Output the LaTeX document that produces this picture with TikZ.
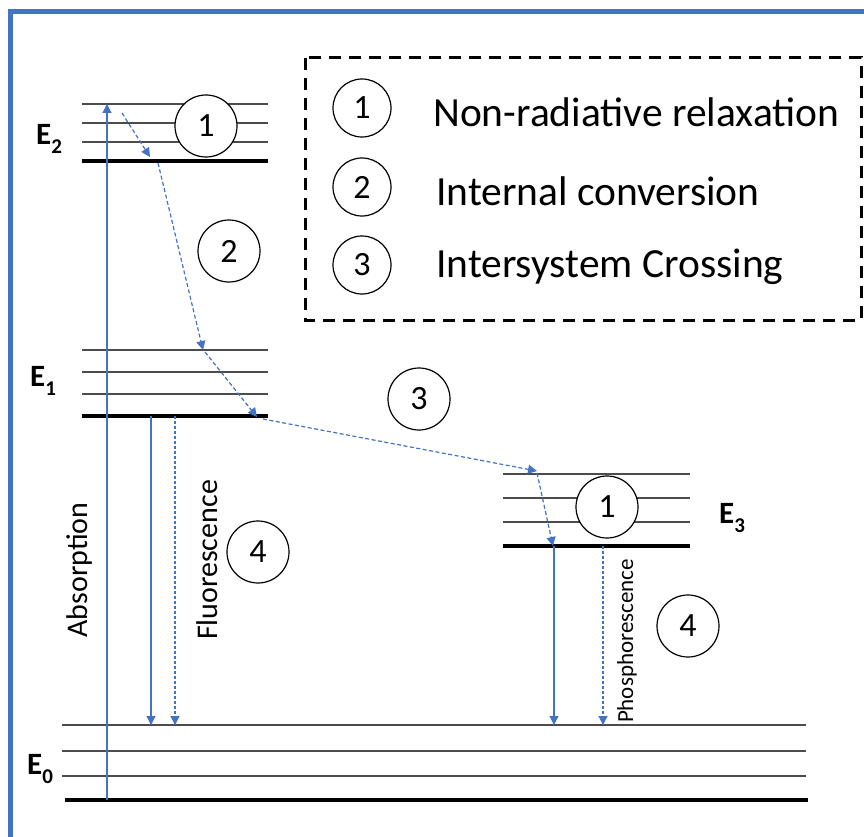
\documentclass[tikz,border=0pt]{standalone}
\usepackage{fontspec}
\setmainfont{Carlito}
\usetikzlibrary{arrows.meta}
\definecolor{frameblue}{HTML}{4472C4}
\definecolor{arrowblue}{HTML}{4472C4}

\newcommand{\energy}[1]{E\raisebox{-9pt}{\fontsize{21}{21}\selectfont #1}}

\begin{document}
\begin{tikzpicture}[x=1pt,y=-1pt,
  level/.style={draw=black!70, line width=1.1pt},
  baselevel/.style={draw=black, line width=3.6pt},
  tag/.style={circle, draw=black, line width=1.2pt, fill=white, minimum size=62pt,
    inner sep=0pt, font=\fontsize{34}{34}\selectfont},
  keytag/.style={tag, minimum size=58pt},
  transition/.style={draw=arrowblue, line width=1.2pt, -{Triangle[length=9pt,width=9pt]}},
  relax/.style={transition, dash pattern=on 4pt off 2.5pt},
  elabel/.style={anchor=base west, inner sep=0pt, font=\fontsize{31}{31}\selectfont\bfseries},
  legendtext/.style={anchor=base west, inner sep=0pt, font=\fontsize{41.5}{41.5}\selectfont},
  vlabel/.style={rotate=90, inner sep=0pt, font=\fontsize{30}{30}\selectfont}
]
\useasboundingbox (0,0) rectangle (864,837);

% outer frame (left and top edges)
\draw[frameblue, line width=5pt] (10.5,837) -- (10.5,11.5) -- (864,11.5);

% ---------- energy levels ----------
% E2
\foreach \y in {104,123,142} \draw[level] (82,\y) -- (268,\y);
\draw[baselevel] (82,161) -- (268,161);
% E1
\foreach \y in {350,372,394} \draw[level] (82,\y) -- (268,\y);
\draw[baselevel] (82,416) -- (268,416);
% E3
\foreach \y in {474,498,522} \draw[level] (503,\y) -- (690,\y);
\draw[baselevel] (503,546) -- (690,546);
% E0
\foreach \y in {725,751,776} \draw[level] (62,\y) -- (806,\y);
\draw[baselevel] (65,800) -- (808,800);

% level labels
\node[elabel] (lE2) at (36,145) {\energy{2}};
\node[elabel] (lE1) at (30,386) {\energy{1}};
\node[elabel] (lE3) at (719,523) {\energy{3}};
\node[elabel] (lE0) at (27,774) {\energy{0}};

% ---------- process markers ----------
\node[tag] (nr2) at (206,126) {1};
\node[tag] (ic)  at (229,251) {2};
\node[tag] (isc) at (419,399) {3};
\node[tag] (nr3) at (607,507) {1};
\node[tag] (em1) at (258,552) {4};
\node[tag] (em3) at (688,626) {4};

% ---------- transition end points ----------
\coordinate (absA) at (107,800);  \coordinate (absB) at (107,104);
\coordinate (r1a) at (122,113);   \coordinate (r1b) at (150,157);
\coordinate (r2a) at (158,163);   \coordinate (r2b) at (203,350);
\coordinate (r3a) at (205,352);   \coordinate (r3b) at (257,417);
\coordinate (r4a) at (263,419);   \coordinate (r4b) at (537,471);
\coordinate (r5a) at (537,473);   \coordinate (r5b) at (553,546);
\coordinate (fsA) at (151,416);   \coordinate (fsB) at (151,725);
\coordinate (fdA) at (175,416);   \coordinate (fdB) at (175,725);
\coordinate (psA) at (554,546);   \coordinate (psB) at (554,725);
\coordinate (pdA) at (603,546);   \coordinate (pdB) at (603,725);

% absorption
\draw[transition] (absA) -- (absB);
% relaxation cascade
\draw[relax] (r1a) -- (r1b);
\draw[relax] (r2a) -- (r2b);
\draw[relax] (r3a) -- (r3b);
\draw[relax] (r4a) -- (r4b);
\draw[relax] (r5a) -- (r5b);
% emission
\draw[transition] (fsA) -- (fsB);
\draw[transition, dash pattern=on 3pt off 2pt] (fdA) -- (fdB);
\draw[transition] (psA) -- (psB);
\draw[transition, dash pattern=on 3pt off 2pt] (pdA) -- (pdB);

% vertical captions
\node[vlabel] (tAbs) at (80,570) {Absorption};
\node[vlabel] (tFl) at (207,560) {Fluorescence};
\node[vlabel, font=\fontsize{23}{23}\selectfont] (tPh) at (627,641) {Phosphorescence};

% ---------- key ----------
\draw[black, line width=3pt, dash pattern=on 12pt off 8pt] (305,58) rectangle (861,320);
\node[keytag] (k1) at (362,108) {1};
\node[keytag] (k2) at (362,187) {2};
\node[keytag] (k3) at (362,265) {3};
\node[legendtext] (t1) at (433,127) {Non-radiative relaxation};
\node[legendtext] (t2) at (436,205) {Internal conversion};
\node[legendtext] (t3) at (436,277) {Intersystem Crossing};
\end{tikzpicture}
\end{document}
